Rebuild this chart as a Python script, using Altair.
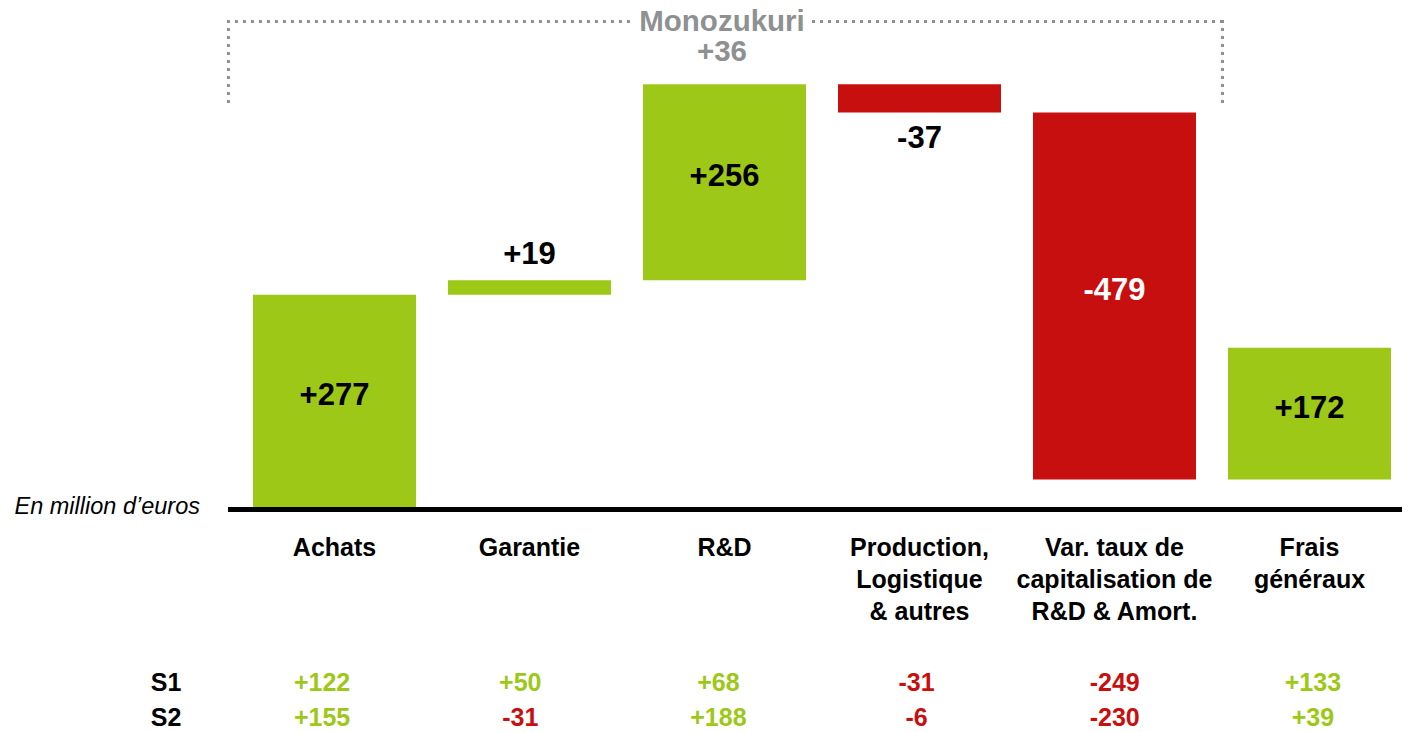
import altair as alt
import pandas as pd

# ---- data ----
categories = ["Achats", "Garantie", "R&D", "Production", "Var. taux", "Frais généraux"]
cat_labels = [
    "Achats",
    "Garantie",
    "R&D",
    "Production,\nLogistique\n& autres",
    "Var. taux de\ncapitalisation de\nR&D & Amort.",
    "Frais\ngénéraux",
]
deltas = [277, 19, 256, -37, -479, 172]
s1_values = [122, 50, 68, -31, -249, 133]
s2_values = [155, -31, 188, -6, -230, 39]
row_names = ["S1", "S2"]
bracket_title = "Monozukuri"
bracket_value = 36
unit_note = "En million d\u2019euros"

GREEN = "#9DC817"
RED = "#C80F10"
GREY = "#8E9092"
FONT = "Liberation Sans"

# ---- derived table ----
ends, run = [], 0
for d in deltas:
    run += d
    ends.append(run)
starts = [e - d for e, d in zip(ends, deltas)]

df = pd.DataFrame({
    "cat": categories,
    "label": cat_labels,
    "delta": deltas,
    "start": starts,
    "end": ends,
    "mid": [(s + e) / 2 for s, e in zip(starts, ends)],
    "txt": [f"{d:+d}" for d in deltas],
    "sign": ["pos" if d > 0 else "neg" for d in deltas],
    "s1": [f"{v:+d}" for v in s1_values],
    "s2": [f"{v:+d}" for v in s2_values],
    "s1v": s1_values,
    "s2v": s2_values,
})
df["inside"] = df["delta"].abs() >= 100

xscale = alt.Scale(type="band", domain=categories, range=[245, 1383], paddingInner=0.164, paddingOuter=0)
xscale_rows = alt.Scale(type="band", domain=categories, range=[215, 1404], paddingInner=0, paddingOuter=0)
yscale = alt.Scale(domain=[0, 651.4], range=[499, 0], zero=False, nice=False)
X = alt.X("cat:N", scale=xscale, axis=None, sort=categories)
XR = alt.X("cat:N", scale=xscale_rows, axis=None, sort=categories)

base = alt.Chart(df)

bars = base.mark_bar(size=163).encode(
    x=X,
    y=alt.Y("start:Q", scale=yscale, axis=None),
    y2="end:Q",
    color=alt.Color("sign:N", scale=alt.Scale(domain=["pos", "neg"], range=[GREEN, RED]), legend=None),
)

lab_kw = dict(font=FONT, fontWeight="bold", fontSize=31, align="center", baseline="middle")

inside = base.transform_filter("datum.inside").mark_text(dy=-5, **lab_kw).encode(
    x=X, y=alt.Y("mid:Q", scale=yscale, axis=None), text="txt:N",
    color=alt.condition("datum.delta < 0", alt.value("white"), alt.value("black")),
)
out_pos = base.transform_filter("!datum.inside && datum.delta > 0").mark_text(dy=-25, color="black", **lab_kw).encode(
    x=X, y=alt.Y("end:Q", scale=yscale, axis=None), text="txt:N",
)
out_neg = base.transform_filter("!datum.inside && datum.delta < 0").mark_text(dy=27, color="black", **lab_kw).encode(
    x=X, y=alt.Y("end:Q", scale=yscale, axis=None), text="txt:N",
)

axis_line = alt.Chart(pd.DataFrame({"a": [0]})).mark_rule(color="black", strokeWidth=5).encode(
    x=alt.value(220), x2=alt.value(1402), y=alt.value(501.5)
)

cat_text = base.mark_text(font=FONT, fontWeight="bold", fontSize=25, align="center",
                          baseline="alphabetic", lineBreak="\n", lineHeight=32, color="black").encode(
    x=X, y=alt.value(547.8), text="label:N",
)

row_kw = dict(font=FONT, fontWeight="bold", fontSize=25, align="center", baseline="alphabetic")
s1_text = base.mark_text(**row_kw).encode(
    x=XR, y=alt.value(682.8), text="s1:N",
    color=alt.condition("datum.s1v < 0", alt.value(RED), alt.value(GREEN)),
)
s2_text = base.mark_text(**row_kw).encode(
    x=XR, y=alt.value(718.4), text="s2:N",
    color=alt.condition("datum.s2v < 0", alt.value(RED), alt.value(GREEN)),
)

rows_df = pd.DataFrame({"name": row_names, "yy": [682.8, 718.4]})
row_names_text = alt.Chart(rows_df).mark_text(**row_kw, color="black").encode(
    x=alt.value(158), y=alt.Y("yy:Q", scale=None), text="name:N",
)

note = alt.Chart(pd.DataFrame({"t": [unit_note]})).mark_text(
    font=FONT, fontStyle="italic", fontSize=23.5, align="right", baseline="alphabetic", color="black"
).encode(x=alt.value(192), y=alt.value(506), text="t:N")

# bracket
dot_kw = dict(color=GREY, strokeWidth=3, strokeDash=[3, 5], strokeCap="butt")
one = pd.DataFrame({"a": [0]})
br_left = alt.Chart(one).mark_rule(**dot_kw).encode(x=alt.value(219), x2=alt.value(625), y=alt.value(13.5))
br_right = alt.Chart(one).mark_rule(**dot_kw).encode(x=alt.value(804), x2=alt.value(1216), y=alt.value(13.5))
br_lv = alt.Chart(one).mark_rule(**dot_kw).encode(x=alt.value(220.5), y=alt.value(12), y2=alt.value(95))
br_rv = alt.Chart(one).mark_rule(**dot_kw).encode(x=alt.value(1214.5), y=alt.value(12), y2=alt.value(95))
br_title = alt.Chart(pd.DataFrame({"t": [bracket_title]})).mark_text(
    font=FONT, fontWeight="bold", fontSize=29.5, align="center", baseline="alphabetic", color=GREY
).encode(x=alt.value(714), y=alt.value(22.5), text="t:N")
br_val = alt.Chart(pd.DataFrame({"t": [f"{bracket_value:+d}"]})).mark_text(
    font=FONT, fontWeight="bold", fontSize=29.5, align="center", baseline="alphabetic", color=GREY
).encode(x=alt.value(714), y=alt.value(53), text="t:N")

chart = alt.layer(
    bars, inside, out_pos, out_neg, axis_line, cat_text, s1_text, s2_text, row_names_text, note,
    br_left, br_right, br_lv, br_rv, br_title, br_val,
).resolve_scale(x="independent").properties(
    width=1394, height=726, autosize=alt.AutoSizeParams(type="none"), padding=0,
    background="white",
).configure_view(stroke=None)

chart.save("out.html", embed_options={"renderer": "svg", "actions": False})
